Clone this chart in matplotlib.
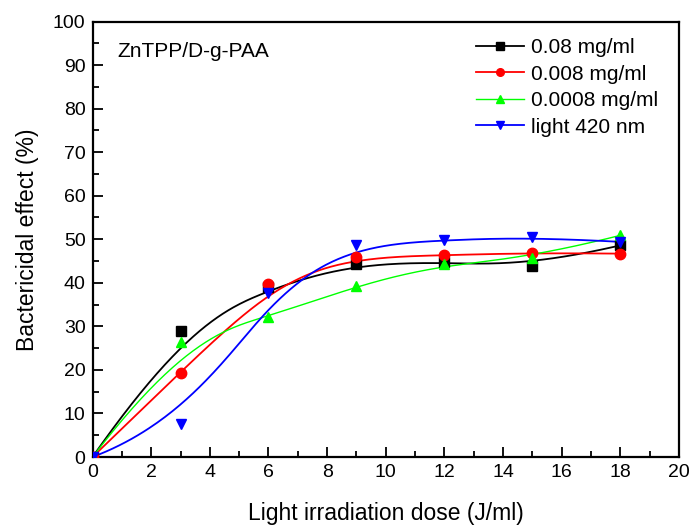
import numpy as np
import matplotlib
matplotlib.use("Agg")
import matplotlib.pyplot as plt
from matplotlib.ticker import MultipleLocator

dose = [0, 3, 6, 9, 12, 15, 18]
s008 = [0, 28.9, 39.0, 44.3, 44.8, 43.9, 48.6]
s0008 = [0, 19.4, 39.8, 45.9, 46.3, 46.9, 46.7]
s00008 = [0, 26.4, 32.2, 39.3, 44.4, 45.8, 50.9]
light = [0, 7.6, 37.6, 48.6, 49.8, 50.5, 49.4]
labels = ["0.08 mg/ml", "0.008 mg/ml", "0.0008 mg/ml", "light 420 nm"]
colors = ["black", "#ff0000", "#00ff00", "#0000ff"]
markers = ["s", "o", "^", "v"]
lws = [1.3, 1.3, 1.0, 1.3]

plt.rcParams['font.family'] = ['Liberation Sans', 'DejaVu Sans']


def bspline(px, py, n=300):
    # clamped uniform cubic B-spline with data points as control points
    P = np.column_stack([px, py]).astype(float)
    m = len(P)
    k = 3
    inner = list(range(1, m - k))
    knots = np.array([0] * (k + 1) + inner + [m - k] * (k + 1), float)
    ts = np.linspace(0, m - k, n)
    out = []
    for t in ts:
        if t >= knots[-1]:
            i = m - 1
        else:
            i = np.searchsorted(knots, t, side='right') - 1
        d = [P[j + i - k].copy() for j in range(k + 1)]
        for r in range(1, k + 1):
            for j in range(k, r - 1, -1):
                denom = knots[j + 1 + i - r] - knots[j + i - k]
                a = 0 if denom == 0 else (t - knots[j + i - k]) / denom
                d[j] = (1 - a) * d[j - 1] + a * d[j]
        out.append(d[k])
    out = np.array(out)
    return out[:, 0], out[:, 1]


fig = plt.figure(figsize=(6.91, 5.27), dpi=100)
ax = fig.add_axes([0.1339, 0.1328, 0.8488, 0.8264])

for ys, lab, c, mk, lw in zip([s008, s0008, s00008, light], labels, colors, markers, lws):
    cx, cy = bspline(dose, ys)
    ax.plot(cx, cy, color=c, lw=lw, zorder=2)
    ax.plot(dose, ys, linestyle='none', marker=mk, color=c, markersize=7.5, zorder=3)
    ax.plot([], [], color=c, lw=lw, marker=mk, markersize=5.5, label=lab)

ax.set_xlim(0, 20)
ax.set_ylim(0, 100)
ax.xaxis.set_major_locator(MultipleLocator(2))
ax.xaxis.set_minor_locator(MultipleLocator(1))
ax.yaxis.set_major_locator(MultipleLocator(10))
ax.yaxis.set_minor_locator(MultipleLocator(5))
ax.tick_params(which='both', direction='in', top=False, right=False, labelsize=14, width=1.3)
ax.tick_params(which='major', length=7, pad=5)
ax.tick_params(which='minor', length=4)
for sp in ax.spines.values():
    sp.set_linewidth(1.6)

ax.set_xlabel("Light irradiation dose (J/ml)", fontsize=16.5, labelpad=15)
ax.set_ylabel("Bactericidal effect (%)", fontsize=16.5, labelpad=10)
ax.text(0.043, 0.952, "ZnTPP/D-g-PAA", transform=ax.transAxes, fontsize=15, va='top', ha='left')

leg = ax.legend(loc='upper right', bbox_to_anchor=(0.99, 0.995), frameon=False, fontsize=15,
                handlelength=2.3, handletextpad=0.35, labelspacing=0.36, borderpad=0.2)

fig.savefig("out.png", dpi=100)
